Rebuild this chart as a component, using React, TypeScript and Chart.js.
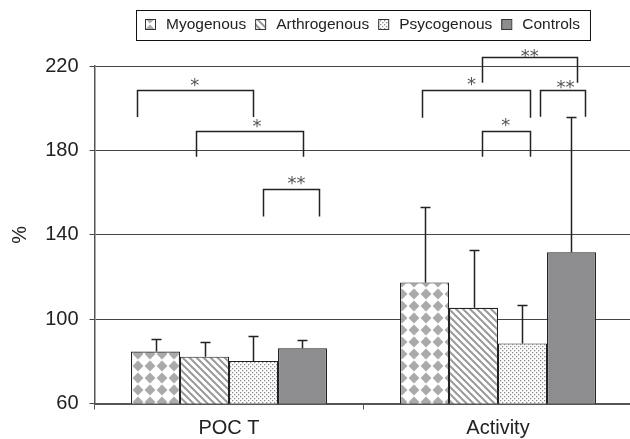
import React, { useEffect, useRef } from "react";
import { Chart, registerables } from "chart.js";

Chart.register(...registerables);

// ---------- data ----------
const categories = ["POC T", "Activity"];
const seriesNames = ["Myogenous", "Arthrogenous", "Psycogenous", "Controls"];
const myogenous = [84.6, 117.4];
const arthrogenous = [82.2, 105.4];
const psycogenous = [80.2, 88.5];
const controls = [86.2, 131.7];
const myogenousSD = [6.1, 35.8];
const arthrogenousSD = [7.1, 27.4];
const psycogenousSD = [11.9, 18.1];
const controlsSD = [3.9, 64.3];
const yTicks = [60, 100, 140, 180, 220];

// significance brackets: [category, fromSlot, toSlot, topValue, legEndValue, label, labelSlot, labelValue]
const brackets: [number, number, number, number, number, string, number, number][] = [
  [0, 0.12, 2.48, 208.6, 195.8, "*", 1.3, 213.0],
  [0, 1.32, 3.51, 189.3, 177.0, "*", 2.57, 193.7],
  [0, 2.69, 3.84, 161.6, 148.6, "**", 3.38, 166.5],
  [1, 1.67, 3.62, 224.2, 212.1, "**", 2.65, 226.8],
  [1, 0.44, 2.65, 208.6, 195.5, "*", 1.46, 213.4],
  [1, 2.86, 3.77, 208.6, 196.0, "**", 3.38, 212.0],
  [1, 1.67, 2.66, 189.3, 177.0, "*", 2.16, 194.1],
];

const seriesValues = [myogenous, arthrogenous, psycogenous, controls];
const seriesSD = [myogenousSD, arthrogenousSD, psycogenousSD, controlsSD];

const FONT = "'Liberation Sans', Arial, sans-serif";
const CONTROL_GRAY = "#8d8d8f";

function tile(size: number, draw: (c: CanvasRenderingContext2D) => void) {
  const t = document.createElement("canvas");
  t.width = size;
  t.height = size;
  const c = t.getContext("2d")!;
  c.fillStyle = "#ffffff";
  c.fillRect(0, 0, size, size);
  draw(c);
  return t;
}

function makeFills(ctx: CanvasRenderingContext2D): (CanvasPattern | string)[] {
  const diamonds = tile(12, (c) => {
    c.fillStyle = "#aaaaaa";
    c.beginPath();
    c.moveTo(6, 0.6);
    c.lineTo(11.4, 6);
    c.lineTo(6, 11.4);
    c.lineTo(0.6, 6);
    c.closePath();
    c.fill();
  });
  const stripes = tile(7, (c) => {
    c.strokeStyle = "#9a9a9a";
    c.lineWidth = 2;
    c.beginPath();
    c.moveTo(-2, -2);
    c.lineTo(9, 9);
    c.moveTo(-2, 5);
    c.lineTo(2, 9);
    c.moveTo(5, -2);
    c.lineTo(9, 2);
    c.stroke();
  });
  const dots = tile(4, (c) => {
    c.fillStyle = "#8a8a8a";
    c.fillRect(0, 0, 1.3, 1.3);
    c.fillRect(2, 2, 1.3, 1.3);
  });
  return [
    ctx.createPattern(diamonds, "repeat")!,
    ctx.createPattern(stripes, "repeat")!,
    ctx.createPattern(dots, "repeat")!,
    CONTROL_GRAY,
  ];
}

export default function App() {
  const ref = useRef<HTMLCanvasElement>(null);

  useEffect(() => {
    const canvas = ref.current!;
    const ctx = canvas.getContext("2d")!;
    const fills = makeFills(ctx);

    const overlay = {
      id: "overlay",
      afterDatasetsDraw(chart: any) {
        const c: CanvasRenderingContext2D = chart.ctx;
        const ys = chart.scales.y;
        c.save();
        // error bars
        c.strokeStyle = "#222";
        c.lineWidth = 1.5;
        seriesValues.forEach((vals, d) => {
          const meta = chart.getDatasetMeta(d);
          vals.forEach((v, i) => {
            const bar = meta.data[i];
            const x = Math.round(bar.x) + 0.5;
            const y0 = ys.getPixelForValue(v);
            const y1 = Math.round(ys.getPixelForValue(v + seriesSD[d][i])) + 0.5;
            c.beginPath();
            c.moveTo(x, y0);
            c.lineTo(x, y1);
            c.moveTo(x - 5, y1);
            c.lineTo(x + 5, y1);
            c.stroke();
          });
        });
        // brackets
        const meta0 = chart.getDatasetMeta(0);
        brackets.forEach(([cat, from, to, top, leg, label, lSlot, lVal]) => {
          const bar = meta0.data[cat];
          const left = bar.x - bar.width / 2;
          const w = bar.width;
          const x1 = Math.round(left + from * w) + 0.5;
          const x2 = Math.round(left + to * w) + 0.5;
          const yt = Math.round(ys.getPixelForValue(top)) + 0.5;
          const yl = ys.getPixelForValue(leg);
          c.strokeStyle = "#222";
          c.lineWidth = 1.5;
          c.beginPath();
          c.moveTo(x1, yl);
          c.lineTo(x1, yt);
          c.lineTo(x2, yt);
          c.lineTo(x2, yl);
          c.stroke();
          const size = 18;
          c.font = `${size}px 'DejaVu Sans', sans-serif`;
          c.fillStyle = "#555";
          c.textAlign = "center";
          c.textBaseline = "alphabetic";
          const lx = left + lSlot * w;
          const ly = ys.getPixelForValue(lVal) + 0.575 * size;
          c.fillText(label, lx, ly);
        });
        c.restore();
      },
      afterDraw(chart: any) {
        const c: CanvasRenderingContext2D = chart.ctx;
        c.save();
        c.font = `15.5px ${FONT}`;
        c.textAlign = "left";
        c.textBaseline = "alphabetic";
        const boxLeft = 136;
        const boxTop = 10;
        const boxH = 30;
        let x = boxLeft + 9;
        seriesNames.forEach((name, i) => {
          c.fillStyle = fills[i] as any;
          c.fillRect(x, 19.5, 10, 10);
          c.strokeStyle = "#333";
          c.lineWidth = 1;
          c.strokeRect(x + 0.5, 19.5, 10, 10);
          c.fillStyle = "#222";
          c.fillText(name, x + 21, 28.5);
          x += 21 + c.measureText(name).width + 9;
        });
        c.strokeStyle = "#111";
        c.lineWidth = 1;
        c.strokeRect(boxLeft + 0.5, boxTop + 0.5, x + 1 - boxLeft, boxH);
        c.restore();
      },
    };

    const chart = new Chart(canvas, {
      type: "bar",
      data: {
        labels: categories,
        datasets: seriesNames.map((name, i) => ({
          label: name,
          data: seriesValues[i],
          backgroundColor: fills[i] as any,
          borderColor: "#222",
          borderWidth: 1.2,
          categoryPercentage: 0.7286,
          barPercentage: 1,
        })),
      },
      options: {
        responsive: false,
        animation: false,
        devicePixelRatio: 1,
        layout: { padding: { top: 66, right: 7.5, left: 0, bottom: 0 } },
        plugins: { legend: { display: false }, tooltip: { enabled: false } },
        scales: {
          x: {
            grid: { drawOnChartArea: false, offset: true, tickLength: 6, color: "#555" },
            border: { color: "#555", width: 2 },
            ticks: { font: { family: FONT, size: 20 }, color: "#222", padding: 7 },
            afterFit: (s: any) => {
              s.height = 35.5;
            },
          },
          y: {
            min: 60,
            max: 220,
            afterBuildTicks: (s: any) => {
              s.ticks = yTicks.map((v) => ({ value: v }));
            },
            grid: { color: "#444", lineWidth: 1, tickLength: 5 },
            border: { color: "#555", width: 1.5 },
            ticks: { font: { family: FONT, size: 20 }, color: "#222", padding: 11 },
            title: {
              display: true,
              text: "%",
              font: { family: FONT, size: 20 },
              color: "#222",
              padding: { top: 8.5, bottom: 0 },
            },
            afterFit: (s: any) => {
              s.width = 94.5;
            },
          },
        },
      },
      plugins: [overlay],
    });
    return () => chart.destroy();
  }, []);

  return (
    <div style={{ position: "fixed", left: 0, top: 0, width: 640, height: 439, background: "#fff" }}>
      <canvas ref={ref} width={640} height={439} style={{ width: 640, height: 439, display: "block" }} />
    </div>
  );
}
